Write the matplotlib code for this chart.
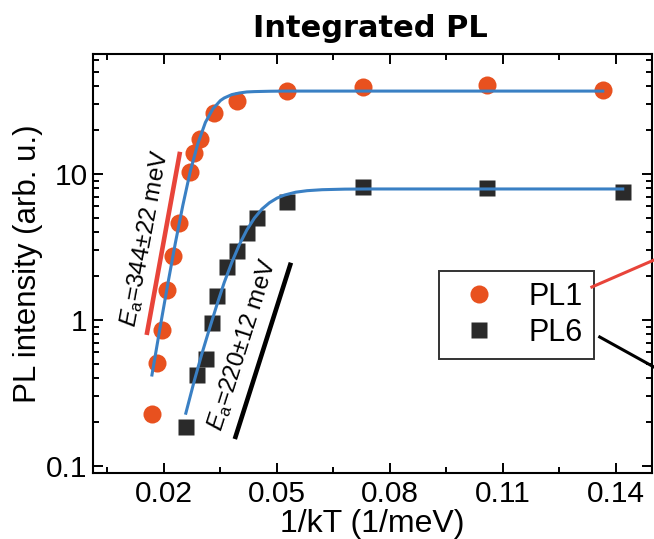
import numpy as np
import matplotlib
matplotlib.use("Agg")
import matplotlib.pyplot as plt
from matplotlib.ticker import FixedLocator, FuncFormatter, LogLocator, NullFormatter
from matplotlib.lines import Line2D

plt.rcParams['font.family'] = ['Liberation Sans', 'DejaVu Sans']
plt.rcParams['mathtext.fontset'] = 'custom'
plt.rcParams['mathtext.rm'] = 'Liberation Sans'
plt.rcParams['mathtext.it'] = 'Liberation Sans:italic'

# measured points, x = 1/kT (1/meV)
pl1_x = [0.0168, 0.0181, 0.0195, 0.0208, 0.0225, 0.0240, 0.0269, 0.0280,
         0.0296, 0.0333, 0.0395, 0.0527, 0.0728, 0.1057, 0.1365]
pl1_y = [0.227, 0.51, 0.855, 1.60, 2.74, 4.62, 10.4, 14.0,
         17.4, 26.2, 31.6, 37.0, 39.7, 40.7, 37.6]

pl6_x = [0.0258, 0.0287, 0.0311, 0.0327, 0.0341, 0.0367, 0.0394, 0.0420,
         0.0447, 0.0527, 0.0728, 0.1057, 0.1418]
pl6_y = [0.185, 0.42, 0.54, 0.95, 1.46, 2.31, 2.97, 3.95,
         5.0, 6.43, 8.15, 8.02, 7.53]

# fit curves
fit1_x = [0.0168, 0.019, 0.021, 0.023, 0.025, 0.027, 0.029, 0.031, 0.033,
          0.035, 0.036, 0.038, 0.040, 0.042, 0.044, 0.048, 0.052, 0.060, 0.1365]
fit1_y = [0.42, 0.90, 1.76, 3.35, 6.1, 10.5, 16.2, 22.6, 28.0,
          31.9, 33.2, 35.0, 35.9, 36.5, 36.7, 36.9, 37.0, 37.0, 37.0]
fit6_x = [0.0258, 0.028, 0.030, 0.032, 0.034, 0.036, 0.038, 0.040, 0.042,
          0.044, 0.046, 0.048, 0.050, 0.052, 0.055, 0.058, 0.062, 0.068,
          0.075, 0.1418]
fit6_y = [0.23, 0.38, 0.58, 0.86, 1.26, 1.81, 2.48, 3.28, 4.14,
          4.99, 5.75, 6.36, 6.84, 7.18, 7.51, 7.69, 7.81, 7.88,
          7.9, 7.9]

# activation-energy guide lines
ea1_x = [0.0154, 0.02425]
ea1_y = [0.79, 14.2]
ea6_x = [0.0388, 0.0537]
ea6_y = [0.153, 2.47]

xticks_major = [0.02, 0.05, 0.08, 0.11, 0.14]
xticks_minor = [0.005, 0.035, 0.065, 0.095, 0.125]
yticks = [0.1, 1, 10]

orange = '#E8511F'
dark = '#2A2A2A'
blue = '#3A80C4'
red = '#E8443A'

fig = plt.figure(figsize=(6.54, 5.39), dpi=100)
ax = fig.add_axes([0.1422, 0.1224, 0.8547, 0.7774])

ax.plot(pl1_x, pl1_y, 'o', color=orange, ms=13, mec='none', label='PL1', zorder=3)
ax.plot(pl6_x, pl6_y, 's', color=dark, ms=11.5, mec='none', label='PL6', zorder=3)
ax.plot(fit1_x, fit1_y, '-', color=blue, lw=2.2, zorder=4)
ax.plot(fit6_x, fit6_y, '-', color=blue, lw=2.2, zorder=4)
ax.plot(ea1_x, ea1_y, '-', color=red, lw=3.3, solid_capstyle='butt', zorder=2)
ax.plot(ea6_x, ea6_y, '-', color='black', lw=3.3, solid_capstyle='butt', zorder=2)

ax.text(0.0150, 3.65, r'$E_{\mathrm{a}}$=344±22 meV', rotation=79.5,
        rotation_mode='anchor', ha='center', va='center', fontsize=17.5)
ax.text(0.04084, 0.675, r'$E_{\mathrm{a}}$=220±12 meV', rotation=72.3,
        rotation_mode='anchor', ha='center', va='center', fontsize=17.5)

ax.set_yscale('log')
ax.set_xlim(0.00115, 0.14956)
ax.set_ylim(0.0895, 66.4)

ax.xaxis.set_major_locator(FixedLocator(xticks_major))
ax.xaxis.set_minor_locator(FixedLocator(xticks_minor))
ax.xaxis.set_major_formatter(FuncFormatter(lambda v, p: f'{v:g}'))
ax.yaxis.set_major_locator(FixedLocator(yticks))
ax.yaxis.set_minor_locator(LogLocator(base=10, subs=np.arange(2, 10)))
ax.yaxis.set_minor_formatter(NullFormatter())
ax.yaxis.set_major_formatter(FuncFormatter(lambda v, p: f'{v:g}'))

ax.tick_params(which='both', direction='in', top=True, right=True, width=1.4,
               labelsize=21.5, color='black')
ax.tick_params(which='major', length=7)
ax.tick_params(which='minor', length=4.5)
ax.tick_params(axis='x', pad=5)
ax.tick_params(axis='y', pad=4)
for s in ax.spines.values():
    s.set_linewidth(1.5)

ax.set_xlabel('1/kT (1/meV)', fontsize=23, labelpad=1)
ax.set_ylabel('PL intensity (arb. u.)', fontsize=22.5, labelpad=2)

leg = ax.legend(loc='upper right', bbox_to_anchor=(0.896, 0.482), fontsize=22,
                frameon=True, fancybox=False, edgecolor='black',
                borderaxespad=0, handletextpad=0.65, borderpad=0.35,
                labelspacing=0.2, handlelength=1.95, markerfirst=True)
leg.get_frame().set_linewidth(1.4)

# callout lines running off the right edge
fig.add_artist(Line2D([0.905, 1.0], [0.4675, 0.5176], transform=fig.transFigure,
                      color=red, lw=2.2))
fig.add_artist(Line2D([0.917, 1.0], [0.3748, 0.319], transform=fig.transFigure,
                      color='black', lw=2.2))

fig.text(0.566, 0.931, 'Integrated PL', ha='center', va='baseline',
         fontsize=22, fontweight='bold', family='DejaVu Sans')

fig.savefig('out.png', dpi=100)
